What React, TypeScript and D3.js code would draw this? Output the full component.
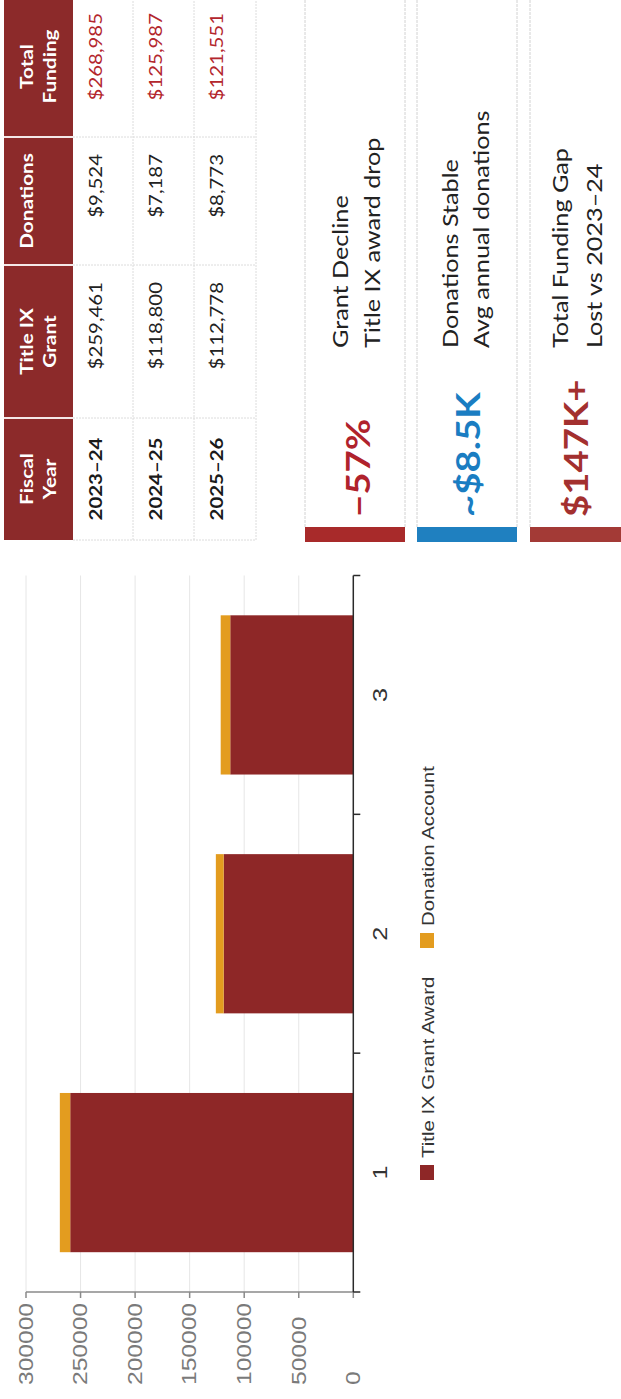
import React from "react";
import * as d3 from "d3";

// ---------- data ----------
const categories = ["1", "2", "3"];
const fiscalYears = ["2023–24", "2024–25", "2025–26"];
const titleIXGrant = [259461, 118800, 112778];
const donations = [9524, 7187, 8773];
const totalFunding = [268985, 125987, 121551];
const seriesKeys = ["grant", "donation"];
const seriesNames = ["Title IX Grant Award", "Donation Account"];
const valueTicks = [0, 50000, 100000, 150000, 200000, 250000, 300000];
const tableHeaders = [["Fiscal", "Year"], ["Title IX", "Grant"], ["Donations"], ["Total", "Funding"]];
const cardValues = ["−57%", "~$8.5K", "$147K+"];
const cardTitles = ["Grant Decline", "Donations Stable", "Total Funding Gap"];
const cardSubtitles = ["Title IX award drop", "Avg annual donations", "Lost vs 2023–24"];

// ---------- styles ----------
const seriesColors = ["#8e2727", "#e39c1f"];
const cardColors = ["#b0222c", "#1a7dc2", "#a3302f"];
const accentColors = ["#a82a2a", "#1f80c0", "#a33a36"];
const HEADER_RED = "#8c2a2a";
const TOTAL_RED = "#b3262d";
const CHART_FONT = "'Liberation Sans', Arial, sans-serif";
const DOC_FONT = "Lato, 'Open Sans', sans-serif";
const SX = 1.2; // horizontal stretch of the scanned page

// page is drawn un-rotated in a 1399 x 621 frame, then turned -90deg
const PW = 1399;

function T(props: any) {
  const { u, v, sx = SX, anchor = "start", children, ...rest } = props;
  return (
    <text transform={`translate(${u},${v}) scale(${sx},1)`} textAnchor={anchor} {...rest}>
      {children}
    </text>
  );
}

export default function App() {
  // ---------- chart ----------
  const x = d3.scaleBand<string>().domain(categories).range([107, 823.5]).paddingInner(1 / 3).paddingOuter(1 / 6);
  const y = d3.scaleLinear().domain([0, 300000]).range([353.3, 26]);
  const rows = categories.map((c, i) => ({ cat: c, grant: titleIXGrant[i], donation: donations[i] }));
  const stacked = d3.stack<any>().keys(seriesKeys)(rows);
  const edges = [...categories.map((c) => x(c)! - (x.step() - x.bandwidth()) / 2), 823.5];
  const axisU = 107;
  const axisV = y(0);

  // ---------- table ----------
  const colEdges = [859, 981, 1134, 1262, 1403];
  const rowEdges = [4, 73, 133, 194, 256];
  const colCenter = (i: number) => (colEdges[i] + colEdges[i + 1]) / 2;
  const pad = 17;
  const fmt = d3.format("$,");

  // ---------- cards ----------
  const cardTops = [305, 417, 530];
  const cardBots = [405, 517, 640];
  const valueBase = [370, 480, 588];
  const titleBase = [348, 458, 568];
  const subBase = [380, 489, 602];

  return (
    <svg width={621} height={1399} style={{ position: "absolute", left: 0, top: 0, background: "#fff" }}>
      <rect x={0} y={0} width={621} height={1399} fill="#fff" />
      <g transform={`translate(0,${PW}) rotate(-90)`}>
        {/* gridlines */}
        {valueTicks.filter((t) => t > 0).map((t) => (
          <line key={"g" + t} x1={axisU} x2={823.5} y1={y(t)} y2={y(t)} stroke="#e6e6e6" strokeWidth={1} />
        ))}
        {/* bars */}
        {stacked.map((s, si) =>
          s.map((d, i) => (
            <rect
              key={si + "-" + i}
              x={x(categories[i])}
              width={x.bandwidth()}
              y={y(d[1])}
              height={y(d[0]) - y(d[1])}
              fill={seriesColors[si]}
            />
          ))
        )}
        {/* value axis */}
        <line x1={axisU} x2={axisU} y1={y(300000)} y2={axisV} stroke="#8a8a8a" strokeWidth={1.5} />
        {valueTicks.map((t) => (
          <g key={"t" + t}>
            <line x1={axisU - 6} x2={axisU} y1={y(t)} y2={y(t)} stroke="#8a8a8a" strokeWidth={1.5} />
            <T u={14} v={y(t)} dominantBaseline="central" fontFamily={CHART_FONT} fontSize={20.5} fill="#7a7a7a">
              {String(t)}
            </T>
          </g>
        ))}
        {/* category axis */}
        <line x1={axisU} x2={823.5} y1={axisV} y2={axisV} stroke="#2a2a2a" strokeWidth={1.5} />
        {edges.map((e, i) => (
          <line key={"e" + i} x1={e} x2={e} y1={axisV} y2={axisV + 7} stroke="#2a2a2a" strokeWidth={1.5} />
        ))}
        {categories.map((c) => (
          <T key={"c" + c} u={x(c)! + x.bandwidth() / 2} v={387} anchor="middle" fontFamily={CHART_FONT} fontSize={21} fill="#333">
            {c}
          </T>
        ))}
        {/* legend */}
        {seriesNames.map((n, i) => {
          const u0 = [219, 451][i];
          return (
            <g key={"l" + i}>
              <rect x={u0} y={420} width={15} height={14} fill={seriesColors[i]} />
              <T u={u0 + 22} v={434} fontFamily={CHART_FONT} fontSize={17} fill="#333">
                {n}
              </T>
            </g>
          );
        })}

        {/* ---------- table ---------- */}
        <rect x={colEdges[0]} y={rowEdges[0]} width={PW + 20 - colEdges[0]} height={rowEdges[1] - rowEdges[0]} fill={HEADER_RED} />
        {colEdges.slice(1, 4).map((c) => (
          <line key={"hs" + c} x1={c} x2={c} y1={rowEdges[0]} y2={rowEdges[1]} stroke="#f4e8e8" strokeWidth={2} />
        ))}
        {colEdges.slice(0, 4).map((c) => (
          <line key={"bs" + c} x1={c} x2={c} y1={rowEdges[1]} y2={rowEdges[4]} stroke="#dcdcdc" strokeWidth={1} strokeDasharray="2 1" />
        ))}
        {rowEdges.slice(2).map((r) => (
          <line key={"rs" + r} x1={colEdges[0]} x2={PW + 20} y1={r} y2={r} stroke="#dcdcdc" strokeWidth={1} strokeDasharray="2 1" />
        ))}
        {tableHeaders.map((lines, ci) =>
          lines.map((ln, li) => (
            <T key={"h" + ci + li} u={colCenter(ci)} v={33 + li * 23} anchor="middle" fontFamily={DOC_FONT} fontWeight={700} fontSize={17.3} fill="#fff">
              {ln}
            </T>
          ))
        )}
        {fiscalYears.map((fy, ri) => {
          const base = rowEdges[ri + 1] + 28.5;
          return (
            <g key={"row" + ri}>
              <T u={colCenter(0)} v={base} anchor="middle" fontFamily={DOC_FONT} fontWeight={700} fontSize={17} fill="#1a1a1a">
                {fy}
              </T>
              <T u={colEdges[2] - pad} v={base} anchor="end" fontFamily={DOC_FONT} fontSize={17} fill="#222">
                {fmt(titleIXGrant[ri])}
              </T>
              <T u={colEdges[3] - pad} v={base} anchor="end" fontFamily={DOC_FONT} fontSize={17} fill="#222">
                {fmt(donations[ri])}
              </T>
              <T u={colEdges[4] - pad} v={base} anchor="end" fontFamily={DOC_FONT} fontSize={17} fill={TOTAL_RED}>
                {fmt(totalFunding[ri])}
              </T>
            </g>
          );
        })}

        {/* ---------- cards ---------- */}
        {cardValues.map((val, i) => (
          <g key={"card" + i}>
            <line x1={872} x2={PW + 20} y1={cardTops[i]} y2={cardTops[i]} stroke="#d2d2d2" strokeWidth={1} strokeDasharray="3 1" />
            <line x1={872} x2={PW + 20} y1={cardBots[i]} y2={cardBots[i]} stroke="#d2d2d2" strokeWidth={1} strokeDasharray="3 1" />
            <rect x={857} y={cardTops[i]} width={15} height={cardBots[i] - cardTops[i]} fill={accentColors[i]} />
            <T u={882} v={valueBase[i]} fontFamily={DOC_FONT} fontWeight={700} fontSize={32} fill={cardColors[i]}>
              {val}
            </T>
            <T u={1051} v={titleBase[i]} fontFamily={DOC_FONT} fontSize={21} fill="#222">
              {cardTitles[i]}
            </T>
            <T u={1051} v={subBase[i]} fontFamily={DOC_FONT} fontSize={21} fill="#222">
              {cardSubtitles[i]}
            </T>
          </g>
        ))}
      </g>
    </svg>
  );
}
